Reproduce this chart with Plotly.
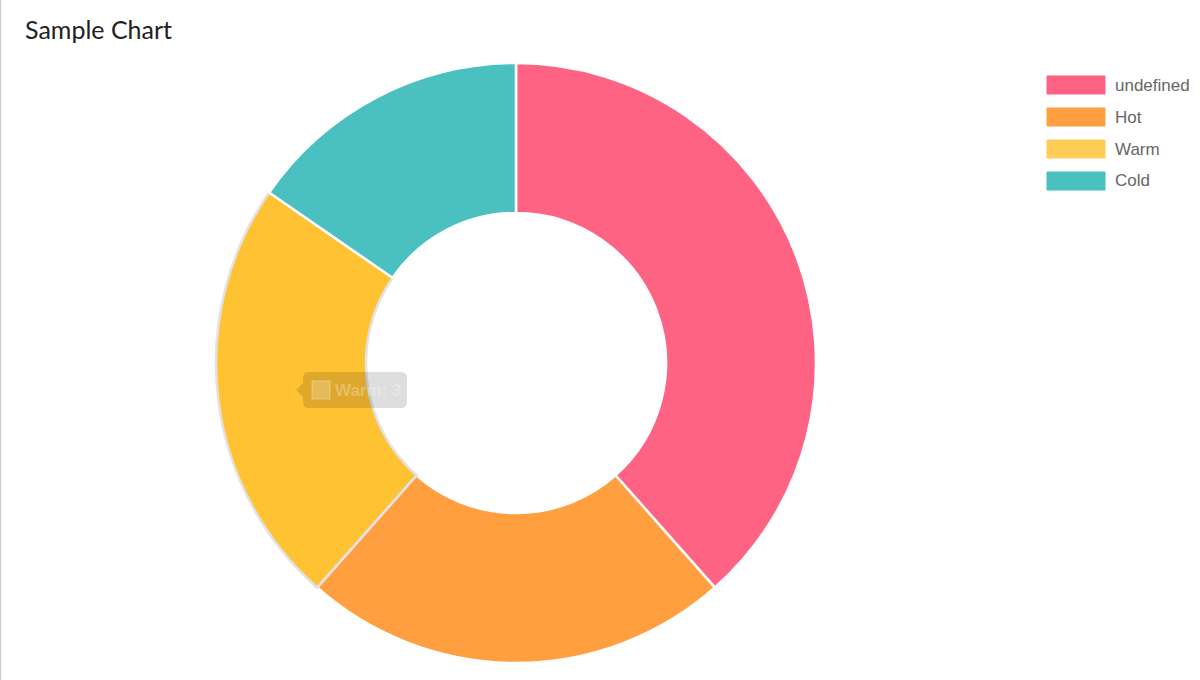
import plotly.graph_objects as go

labels = ["undefined", "Hot", "Warm", "Cold"]
values = [5, 3, 3, 2]
colors = ["#FF6384", "#FF9F40", "#FFC233", "#4BC0C0"]
legend_colors = ["#FF6384", "#FF9F40", "#FFCD56", "#4BC0C0"]
line_colors = ["#FFFFFF", "#FFFFFF", "#E2E2E6", "#FFFFFF"]
title_text = "Sample Chart"
tooltip_label = "Warm"
tooltip_value = 3

W, H = 1200, 680
cx, cy, R = 516, 363, 300


def px(x):
    return x / W


def py(y):
    return 1 - y / H


fig = go.Figure()
fig.add_trace(go.Pie(
    labels=labels, values=values, hole=0.5, sort=False, direction="clockwise",
    rotation=0, textinfo="none", hoverinfo="label+value",
    marker=dict(colors=colors, line=dict(color=line_colors, width=2.5)),
    domain=dict(x=[px(cx - R), px(cx + R)], y=[py(cy + R), py(cy - R)]),
    showlegend=False,
))

shapes = []
annotations = []
# custom legend
for i, (lab, col) in enumerate(zip(labels, legend_colors)):
    y0 = 76 + i * 32
    shapes.append(dict(type="rect", xref="paper", yref="paper",
                       x0=px(1047), x1=px(1105), y0=py(y0 + 18), y1=py(y0),
                       fillcolor=col, line=dict(color=col, width=1), layer="above"))
    annotations.append(dict(xref="paper", yref="paper", x=px(1113), y=py(y0 + 9),
                            text=lab, showarrow=False, xanchor="left", yanchor="middle",
                            font=dict(family="Liberation Sans, Arial", size=17, color="#666666")))

# title
annotations.append(dict(xref="paper", yref="paper", x=px(23), y=py(29), text=title_text,
                        showarrow=False, xanchor="left", yanchor="middle",
                        font=dict(family="Lato, Noto Sans", size=25, color="#222222")))

# faded tooltip (rounded box with left pointer)
x0, x1, y0, y1, r = 303, 407, 372, 408, 6
tip_x, tip_y = 296, 390
path = (f"M {px(x0 + r)},{py(y0)} L {px(x1 - r)},{py(y0)} "
        f"Q {px(x1)},{py(y0)} {px(x1)},{py(y0 + r)} L {px(x1)},{py(y1 - r)} "
        f"Q {px(x1)},{py(y1)} {px(x1 - r)},{py(y1)} L {px(x0 + r)},{py(y1)} "
        f"Q {px(x0)},{py(y1)} {px(x0)},{py(y1 - r)} L {px(x0)},{py(tip_y + 7)} "
        f"L {px(tip_x)},{py(tip_y)} L {px(x0)},{py(tip_y - 7)} L {px(x0)},{py(y0 + r)} "
        f"Q {px(x0)},{py(y0)} {px(x0 + r)},{py(y0)} Z")
shapes.append(dict(type="path", xref="paper", yref="paper", path=path,
                   fillcolor="rgba(0,0,0,0.13)", line=dict(width=0), layer="above"))
shapes.append(dict(type="rect", xref="paper", yref="paper",
                   x0=px(312), x1=px(330), y0=py(399), y1=py(381),
                   fillcolor="rgba(255,255,255,0.22)", line=dict(color="rgba(255,255,255,0.3)", width=1),
                   layer="above"))
annotations.append(dict(xref="paper", yref="paper", x=px(333), y=py(390),
                        text=f"<b>{tooltip_label}: {tooltip_value}</b>",
                        showarrow=False, xanchor="left", yanchor="middle",
                        font=dict(family="Liberation Sans, Arial", size=17, color="rgba(255,255,255,0.28)")))

# left border
shapes.append(dict(type="line", xref="paper", yref="paper", x0=px(0.5), x1=px(0.5), y0=0, y1=1,
                   line=dict(color="#D0D0D0", width=1.5)))

fig.update_layout(width=W, height=H, margin=dict(l=0, r=0, t=0, b=0),
                  paper_bgcolor="white", plot_bgcolor="white",
                  shapes=shapes, annotations=annotations)

fig.write_html("out.html", config={"displayModeBar": False},
               post_script="document.body.style.margin='0';document.body.style.overflow='hidden';")
